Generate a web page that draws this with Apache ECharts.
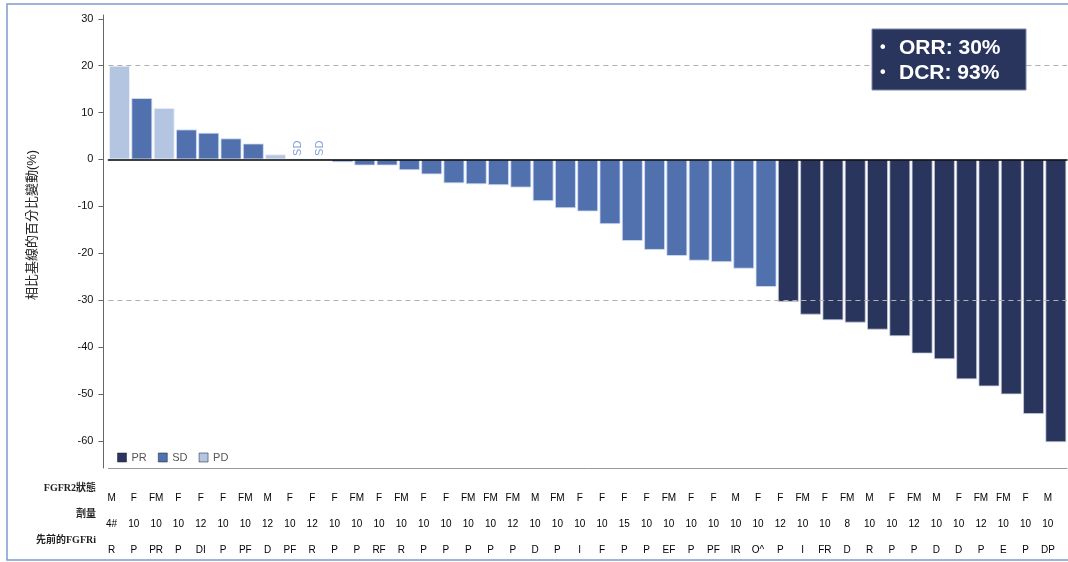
<!DOCTYPE html>
<html>
<head>
<meta charset="utf-8">
<script src="https://cdn.jsdelivr.net/npm/echarts@6/dist/echarts.min.js"></script>
<style>
  html, body { margin: 0; padding: 0; background: #fff; }
  #chart { width: 1068px; height: 562px; }
</style>
</head>
<body>
<div id="chart"></div>
<script>
// ---- data ----
const patientIds = Array.from({ length: 43 }, (_, i) => 'P' + (i + 1));
const changes = [20.0, 13.1, 11.0, 6.4, 5.7, 4.5, 3.4, 1.1, 0, 0,
  -0.6, -1.3, -1.3, -2.3, -3.2, -5.1, -5.3, -5.5, -6.0, -8.9,
  -10.4, -11.1, -13.8, -17.4, -19.3, -20.6, -21.6, -21.9, -23.3, -27.2,
  -30.4, -33.1, -34.3, -34.8, -36.3, -37.7, -41.4, -42.6, -46.9, -48.4,
  -50.1, -54.3, -60.3];
const responses = ['PD', 'SD', 'PD', 'SD', 'SD', 'SD', 'SD', 'PD', 'SD', 'SD',
  'SD', 'SD', 'SD', 'SD', 'SD', 'SD', 'SD', 'SD', 'SD', 'SD',
  'SD', 'SD', 'SD', 'SD', 'SD', 'SD', 'SD', 'SD', 'SD', 'SD',
  'PR', 'PR', 'PR', 'PR', 'PR', 'PR', 'PR', 'PR', 'PR', 'PR',
  'PR', 'PR', 'PR'];
const fgfr2Status = ['M', 'F', 'FM', 'F', 'F', 'F', 'FM', 'M', 'F', 'F',
  'F', 'FM', 'F', 'FM', 'F', 'F', 'FM', 'FM', 'FM', 'M',
  'FM', 'F', 'F', 'F', 'F', 'FM', 'F', 'F', 'M', 'F',
  'F', 'FM', 'F', 'FM', 'M', 'F', 'FM', 'M', 'F', 'FM',
  'FM', 'F', 'M'];
const doses = ['4#', '10', '10', '10', '12', '10', '10', '12', '10', '12',
  '10', '10', '10', '10', '10', '10', '10', '10', '12', '10',
  '10', '10', '10', '15', '10', '10', '10', '10', '10', '10',
  '12', '10', '10', '8', '10', '10', '12', '10', '10', '12',
  '10', '10', '10'];
const priorFGFRi = ['R', 'P', 'PR', 'P', 'DI', 'P', 'PF', 'D', 'PF', 'R',
  'P', 'P', 'RF', 'R', 'P', 'P', 'P', 'P', 'P', 'D',
  'P', 'I', 'F', 'P', 'P', 'EF', 'P', 'PF', 'IR', 'O^',
  'P', 'I', 'FR', 'D', 'R', 'P', 'P', 'D', 'D', 'P',
  'E', 'P', 'DP'];
const responseTypes = ['PR', 'SD', 'PD'];
const yTicks = [30, 20, 10, 0, -10, -20, -30, -40, -50, -60];
const refLines = [20, -30];
const rowLabels = ['FGFR2狀態', '劑量', '先前的FGFRi'];
const yAxisTitle = '相比基線的百分比變動(%)';

// ---- styles ----
const colors = { PR: '#2a355e', SD: '#5071ae', PD: '#b4c5e1' };
const borders = { PR: 'rgba(200,205,220,0.75)', SD: 'rgba(210,222,245,0.8)', PD: 'rgba(235,240,250,0.9)' };
const FONT = '"Liberation Sans", Arial, "Noto Sans CJK TC", sans-serif';

const total = changes.length;
const countOf = r => responses.filter(x => x === r).length;
const orr = Math.round(countOf('PR') / total * 100);
const dcr = Math.round((countOf('PR') + countOf('SD')) / total * 100);

const series = responseTypes.map(rt => ({
  name: rt,
  type: 'bar',
  barWidth: 21,
  barGap: '-100%',
  data: changes.map((v, i) => responses[i] === rt ? v : '-'),
  itemStyle: { color: colors[rt], borderColor: borders[rt], borderWidth: 1 },
  label: rt === 'SD' ? {
    show: true, position: 'top', rotate: 90, align: 'left', verticalAlign: 'middle',
    distance: 3, color: '#7f9dd2', fontSize: 11, fontFamily: FONT,
    formatter: p => (p.value === 0 ? 'SD' : '')
  } : { show: false },
  markLine: rt === 'PR' ? {
    silent: true, symbol: ['none', 'none'], label: { show: false },
    lineStyle: { color: '#b0b0b0', type: [5, 4], width: 1 },
    data: refLines.map(v => ({ yAxis: v }))
  } : undefined,
  emphasis: { disabled: true }
}));

function rowAxis(arr, margin, showLine) {
  return {
    type: 'category', gridIndex: 0, position: 'bottom', data: patientIds,
    axisLine: { show: showLine, onZero: false, lineStyle: { color: '#9a9a9a', width: 1 } },
    axisTick: { show: false },
    splitLine: { show: false },
    axisLabel: {
      interval: 0, margin: margin, color: '#000', fontSize: 10, fontFamily: FONT,
      hideOverlap: false, align: 'center', padding: [0, 16, 0, 0],
      formatter: (val, idx) => arr[idx]
    }
  };
}

const option = {
  animation: false,
  backgroundColor: '#fff',
  textStyle: { fontFamily: FONT },
  grid: { left: 108.4, right: 1, top: 15, bottom: 94, outerBoundsMode: 'none' },
  legend: {
    data: responseTypes, left: 112, top: 447, icon: 'rect',
    itemWidth: 9, itemHeight: 9, itemGap: 11,
    itemStyle: { borderColor: 'rgba(40,40,60,0.55)', borderWidth: 1 },
    textStyle: { color: '#555', fontSize: 11, fontFamily: FONT },
    selectedMode: false
  },
  xAxis: [
    {
      type: 'category', data: patientIds, z: 10,
      axisLine: { onZero: true, lineStyle: { color: '#000', width: 1.5 } },
      axisTick: { show: false }, axisLabel: { show: false }, splitLine: { show: false }
    },
    rowAxis(fgfr2Status, 25, true),
    rowAxis(doses, 51, false),
    rowAxis(priorFGFRi, 77, false)
  ],
  yAxis: {
    type: 'value', min: -65.8, max: 30.8, offset: 5,
    axisLine: { show: true, lineStyle: { color: '#666', width: 1 } },
    axisTick: { show: true, length: 5, lineStyle: { color: '#666' }, customValues: yTicks },
    axisLabel: { color: '#111', fontSize: 11, margin: 10, fontFamily: FONT, customValues: yTicks },
    splitLine: { show: false }
  },
  series: series,
  graphic: [
    {
      type: 'rect', silent: true, z: 0,
      shape: { x: 7, y: 4, width: 1200, height: 556 },
      style: { fill: 'none', stroke: '#7f9bcb', lineWidth: 1.5 }
    },
    {
      type: 'text', silent: true, x: 32, y: 225, rotation: Math.PI / 2,
      style: { text: yAxisTitle, x: 0, y: 0, align: 'center', verticalAlign: 'middle',
        fill: '#222', font: '13px ' + FONT }
    },
    ...rowLabels.map((t, i) => ({
      type: 'text', silent: true, x: 96, y: [488, 514.5, 540][i],
      style: { text: t, align: 'right', verticalAlign: 'middle', fill: '#222',
        font: 'bold 10px "Liberation Serif", "Times New Roman", "Noto Sans CJK TC", serif' }
    })),
    { type: 'rect', silent: true, z: 100, shape: { x: 872, y: 29, width: 154, height: 61 },
      style: { fill: '#2a355e', stroke: '#7d88a8', lineWidth: 1 } },
    { type: 'text', silent: true, z: 101, x: 880, y: 48, style: { text: '•', fill: '#fff', font: 'bold 16px ' + FONT, verticalAlign: 'middle' } },
    { type: 'text', silent: true, z: 101, x: 899, y: 48, style: { text: 'ORR: ' + orr + '%', fill: '#fff', font: 'bold 21px ' + FONT, verticalAlign: 'middle' } },
    { type: 'text', silent: true, z: 101, x: 880, y: 73, style: { text: '•', fill: '#fff', font: 'bold 16px ' + FONT, verticalAlign: 'middle' } },
    { type: 'text', silent: true, z: 101, x: 899, y: 73, style: { text: 'DCR: ' + dcr + '%', fill: '#fff', font: 'bold 21px ' + FONT, verticalAlign: 'middle' } }
  ]
};

const chart = echarts.init(document.getElementById('chart'), null, { renderer: 'canvas' });
chart.setOption(option);
</script>
</body>
</html>
